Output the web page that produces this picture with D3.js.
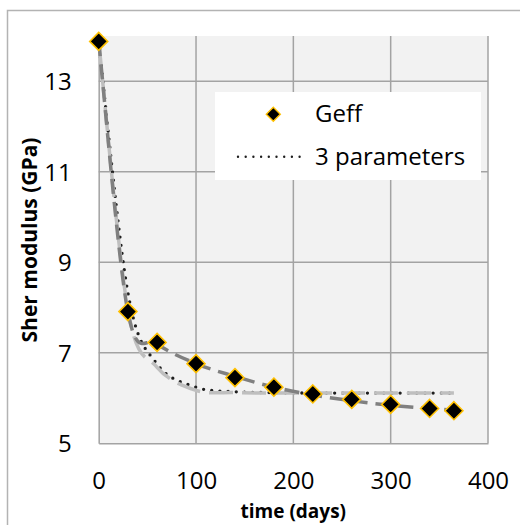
<!DOCTYPE html>
<html><head><meta charset="utf-8">
<script src="https://cdn.jsdelivr.net/npm/d3@7"></script>
<style>body{margin:0;background:#fff}svg{display:block}</style>
</head><body><svg id="c" width="520" height="525"></svg>
<script>
// ---- data ----
const days   = [0, 30, 60, 100, 140, 180, 220, 260, 300, 340, 365];
const geff   = [13.88, 7.91, 7.23, 6.76, 6.45, 6.24, 6.09, 5.97, 5.86, 5.77, 5.72];
const fit3   = [13.88, 8.33, 6.75, 6.24, 6.14, 6.12, 6.11, 6.11, 6.11, 6.11, 6.11]; // "3 parameters" (dotted)
const fitLight = [13.88, 7.95, 6.68, 6.17, 6.12, 6.11, 6.11, 6.11, 6.11, 6.11, 6.11]; // light grey dashed fit
const fitMid   = [13.88, 7.90, 7.20, 6.76, 6.48, 6.24, 6.07, 5.94, 5.84, 5.77, 5.73]; // mid grey dashed fit
const xTicks = [0, 100, 200, 300, 400];
const yTicks = [5, 7, 9, 11, 13];
const legendLabels = ["Geff", "3 parameters"];
const xTitle = "time (days)";
const yTitle = "Sher modulus (GPa)";

const svg = d3.select("#c");
const FONT = "'Open Sans', sans-serif";
const L = 98.7, R = 488, T = 36, B = 443.3;
const x = d3.scaleLinear().domain([0, 400]).range([L, R]);
const y = d3.scaleLinear().domain([5, 14]).range([B, T]);

// spreadsheet-style smoothed line (Catmull-Rom bezier with duplicated end points)
function smoothCurve(context) {
  return {
    areaStart() {}, areaEnd() {},
    lineStart() { this._p = []; },
    point(px, py) { this._p.push([+px, +py]); },
    lineEnd() {
      const p = this._p, n = p.length;
      if (!n) return;
      context.moveTo(p[0][0], p[0][1]);
      for (let i = 0; i < n - 1; i++) {
        const a = p[Math.max(i - 1, 0)], b = p[i], c = p[i + 1], d = p[Math.min(i + 2, n - 1)];
        context.bezierCurveTo(
          b[0] + (c[0] - a[0]) / 6, b[1] + (c[1] - a[1]) / 6,
          c[0] - (d[0] - b[0]) / 6, c[1] - (d[1] - b[1]) / 6,
          c[0], c[1]);
      }
    }
  };
}

// outer chart frame
svg.append("rect").attr("x", 7.5).attr("y", 10.5).attr("width", 530).attr("height", 530)
  .attr("fill", "#fff").attr("stroke", "#b3b3b3").attr("stroke-width", 1.5);

// plot area
svg.append("rect").attr("x", L).attr("y", T).attr("width", R - L).attr("height", B - T).attr("fill", "#f2f2f2");

const grid = svg.append("g").attr("stroke", "#a3a3a3").attr("stroke-width", 1.5);
grid.selectAll(".gy").data(yTicks.filter(d => d > 5)).join("line")
  .attr("x1", L).attr("x2", R).attr("y1", d => y(d)).attr("y2", d => y(d));
grid.selectAll(".gx").data(xTicks.filter(d => d > 0)).join("line")
  .attr("x1", d => x(d)).attr("x2", d => x(d)).attr("y1", T).attr("y2", B);
// axes
const xAxis = d3.axisBottom(x).tickValues(xTicks).tickSize(0).tickPadding(0);
const yAxis = d3.axisLeft(y).tickValues(yTicks).tickSize(0).tickPadding(0);
const gx = svg.append("g").attr("transform", `translate(0,${B})`).call(xAxis);
gx.select(".domain").attr("stroke", "#a3a3a3").attr("stroke-width", 1.5);
gx.selectAll("text").attr("y", 46).attr("dy", 0).attr("font-family", FONT).attr("font-size", 24).attr("fill", "#000");
const gy = svg.append("g").attr("transform", `translate(${L},0)`).call(yAxis);
gy.select(".domain").attr("stroke", "#a3a3a3").attr("stroke-width", 1.5);
gy.selectAll("text").attr("x", 71.7 - L).attr("dy", "0.36em").attr("font-family", FONT).attr("font-size", 24).attr("fill", "#000");

// series lines
const pts = vals => days.map((d, i) => [x(d), y(vals[i])]);
const line = d3.line().curve(smoothCurve);
svg.append("path").attr("d", line(pts(fit3))).attr("fill", "none")
  .attr("stroke", "#1f1f1f").attr("stroke-width", 3.3).attr("stroke-linecap", "round").attr("stroke-dasharray", "0 8.2");
svg.append("path").attr("d", line(pts(fitLight))).attr("fill", "none")
  .attr("stroke", "#bfbfbf").attr("stroke-width", 3.5).attr("stroke-dasharray", "24 9");
svg.append("path").attr("d", line(pts(fitMid))).attr("fill", "none")
  .attr("stroke", "#808080").attr("stroke-width", 3.5).attr("stroke-dasharray", "15 8");

// markers
const diamond = r => `M0,${-r}L${r},0L0,${r}L${-r},0Z`;
svg.append("g").selectAll("path").data(days).join("path")
  .attr("transform", (d, i) => `translate(${x(d)},${y(geff[i])})`)
  .attr("d", diamond(9)).attr("fill", "#000").attr("stroke", "#ffc000").attr("stroke-width", 1.6);

// legend
const lg = svg.append("g");
lg.append("rect").attr("x", 215).attr("y", 92).attr("width", 266).attr("height", 88).attr("fill", "#fff");
lg.append("path").attr("transform", "translate(273.3,114.3)").attr("d", diamond(7)).attr("fill", "#000").attr("stroke", "#ffc000").attr("stroke-width", 1.4);
lg.append("line").attr("x1", 238).attr("x2", 305).attr("y1", 156.7).attr("y2", 156.7)
  .attr("stroke", "#1f1f1f").attr("stroke-width", 2.4).attr("stroke-linecap", "round").attr("stroke-dasharray", "0 7.7");
lg.selectAll("text").data(legendLabels).join("text")
  .attr("x", 315).attr("y", (d, i) => i === 0 ? 121.7 : 165)
  .attr("font-family", FONT).attr("font-size", 24).attr("fill", "#000").text(d => d);

// axis titles
svg.append("text").attr("x", 293.3).attr("y", 518).attr("text-anchor", "middle")
  .attr("font-family", FONT).attr("font-weight", "bold").attr("font-size", 19).attr("fill", "#000").text(xTitle);
svg.append("text").attr("transform", "translate(37,240) rotate(-90)").attr("text-anchor", "middle")
  .attr("font-family", FONT).attr("font-weight", "bold").attr("font-size", 21).attr("fill", "#000").text(yTitle);
</script></body></html>
